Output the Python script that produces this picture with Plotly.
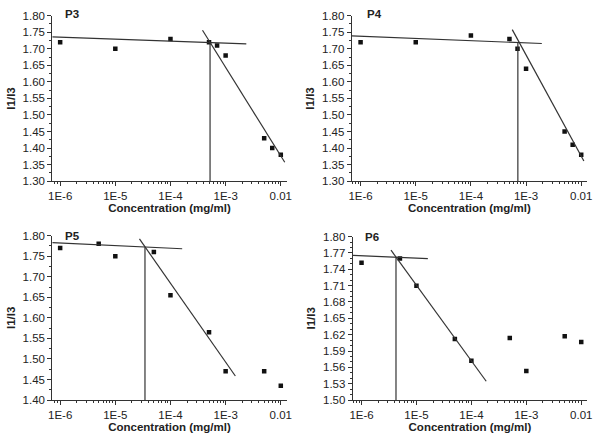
import plotly.graph_objects as go

# ---------------- data ----------------
conc_p3 = [1e-6, 1e-5, 1e-4, 5e-4, 7e-4, 1e-3, 5e-3, 7e-3, 1e-2]
ratio_p3 = [1.72, 1.70, 1.73, 1.72, 1.71, 1.68, 1.43, 1.40, 1.38]
flat_x_p3 = [7.2e-7, 2.37e-3]
flat_y_p3 = [1.736, 1.715]
steep_x_p3 = [3.81e-4, 1.18e-2]
steep_y_p3 = [1.756, 1.357]
cmc_p3 = 5.22e-4
cmc_y_p3 = 1.718

conc_p4 = [1e-6, 1e-5, 1e-4, 5e-4, 7e-4, 1e-3, 5e-3, 7e-3, 1e-2]
ratio_p4 = [1.72, 1.72, 1.74, 1.73, 1.70, 1.64, 1.45, 1.41, 1.38]
flat_x_p4 = [6.9e-7, 1.93e-3]
flat_y_p4 = [1.739, 1.716]
steep_x_p4 = [5.62e-4, 1.117e-2]
steep_y_p4 = [1.758, 1.361]
cmc_p4 = 7.1e-4
cmc_y_p4 = 1.718

conc_p5 = [1e-6, 5e-6, 1e-5, 5e-5, 1e-4, 5e-4, 1e-3, 5e-3, 1e-2]
ratio_p5 = [1.77, 1.78, 1.75, 1.76, 1.655, 1.565, 1.47, 1.47, 1.435]
flat_x_p5 = [7.2e-7, 1.63e-4]
flat_y_p5 = [1.783, 1.768]
steep_x_p5 = [2.74e-5, 1.50e-3]
steep_y_p5 = [1.792, 1.4585]
cmc_p5 = 3.45e-5
cmc_y_p5 = 1.772

conc_p6 = [1e-6, 5e-6, 1e-5, 5e-5, 1e-4, 5e-4, 1e-3, 5e-3, 1e-2]
ratio_p6 = [1.752, 1.760, 1.710, 1.612, 1.572, 1.614, 1.5535, 1.617, 1.6065]
flat_x_p6 = [7.0e-7, 1.61e-5]
flat_y_p6 = [1.7655, 1.7595]
steep_x_p6 = [3.44e-6, 1.86e-4]
steep_y_p6 = [1.775, 1.5345]
cmc_p6 = 4.24e-6
cmc_y_p6 = 1.761

x_tickvals = [1e-6, 1e-5, 1e-4, 1e-3, 1e-2]
x_ticktext = ["1E-6", "1E-5", "1E-4", "1E-3", "0.01"]

panels = [
    dict(name="P3", conc=conc_p3, ratio=ratio_p3, fx=flat_x_p3, fy=flat_y_p3,
         sx=steep_x_p3, sy=steep_y_p3, cmc=cmc_p3, cmcy=cmc_y_p3,
         yr=[1.30, 1.80], dt=0.05, mdt=0.025),
    dict(name="P4", conc=conc_p4, ratio=ratio_p4, fx=flat_x_p4, fy=flat_y_p4,
         sx=steep_x_p4, sy=steep_y_p4, cmc=cmc_p4, cmcy=cmc_y_p4,
         yr=[1.30, 1.80], dt=0.05, mdt=0.025),
    dict(name="P5", conc=conc_p5, ratio=ratio_p5, fx=flat_x_p5, fy=flat_y_p5,
         sx=steep_x_p5, sy=steep_y_p5, cmc=cmc_p5, cmcy=cmc_y_p5,
         yr=[1.40, 1.80], dt=0.05, mdt=0.025),
    dict(name="P6", conc=conc_p6, ratio=ratio_p6, fx=flat_x_p6, fy=flat_y_p6,
         sx=steep_x_p6, sy=steep_y_p6, cmc=cmc_p6, cmcy=cmc_y_p6,
         yr=[1.50, 1.80], dt=0.03, mdt=0.01),
]

# ---------------- layout geometry ----------------
W, H = 600, 444
xdoms = [[49 / W, 287 / W], [353 / W, 592 / W], [49 / W, 287 / W], [354 / W, 592 / W]]
xranges = [[-6.143, -1.893], [-6.161, -1.893], [-6.143, -1.893], [-6.161, -1.893]]
ydoms = [[1 - 180 / H, 1 - 10 / H], [1 - 180 / H, 1 - 10 / H],
         [1 - 405 / H, 1 - 236 / H], [1 - 405 / H, 1 - 237 / H]]
label_pos = [(0.045, 1.01), (0.055, 1.01), (0.045, 1.0), (0.045, 1.0)]

minor_vals = [m * 10.0 ** e for e in range(-7, -1) for m in range(2, 10)]

FONT = "Liberation Sans, Arial, sans-serif"
LINE = "#333333"
TXT = "#222222"
FS = 11.5

fig = go.Figure()
layout = dict(
    width=W, height=H, margin=dict(l=0, r=0, t=0, b=0),
    paper_bgcolor="white", plot_bgcolor="white", showlegend=False,
    font=dict(family=FONT, size=FS, color=TXT),
)
annotations = []

for i, p in enumerate(panels):
    xa = "x" if i == 0 else f"x{i+1}"
    ya = "y" if i == 0 else f"y{i+1}"
    fig.add_trace(go.Scatter(x=p["conc"], y=p["ratio"], mode="markers",
                             marker=dict(symbol="square", size=4.5, color="#111111"),
                             xaxis=xa, yaxis=ya))
    fig.add_trace(go.Scatter(x=p["fx"], y=p["fy"], mode="lines",
                             line=dict(color=LINE, width=1.2), xaxis=xa, yaxis=ya))
    fig.add_trace(go.Scatter(x=p["sx"], y=p["sy"], mode="lines",
                             line=dict(color=LINE, width=1.2), xaxis=xa, yaxis=ya))
    fig.add_trace(go.Scatter(x=[p["cmc"], p["cmc"]], y=[p["cmcy"], p["yr"][0]], mode="lines",
                             line=dict(color=LINE, width=1.2), xaxis=xa, yaxis=ya))

    xkey = "xaxis" if i == 0 else f"xaxis{i+1}"
    ykey = "yaxis" if i == 0 else f"yaxis{i+1}"
    layout[xkey] = dict(
        type="log", domain=xdoms[i], range=xranges[i], anchor=ya,
        tickmode="array", tickvals=x_tickvals, ticktext=x_ticktext,
        ticks="outside", ticklen=4, tickcolor=LINE, showgrid=False, zeroline=False,
        showline=True, linecolor=LINE, linewidth=1,
        tickfont=dict(size=FS, color=TXT),
        minor=dict(tickmode="array", tickvals=minor_vals, ticks="outside", ticklen=2,
                   tickcolor=LINE, showgrid=False),
        title=dict(text="<b>Concentration (mg/ml)</b>", font=dict(size=FS, color=TXT),
                   standoff=3),
    )
    layout[ykey] = dict(
        domain=ydoms[i], range=p["yr"], anchor=xa,
        tick0=p["yr"][0], dtick=p["dt"], tickformat=".2f",
        ticks="outside", ticklen=4, tickcolor=LINE, showgrid=False, zeroline=False,
        showline=True, linecolor=LINE, linewidth=1,
        tickfont=dict(size=FS, color=TXT),
        minor=dict(dtick=p["mdt"], tick0=p["yr"][0], ticks="outside", ticklen=2,
                   tickcolor=LINE, showgrid=False),
        title=dict(text="<b>I1/I3</b>", font=dict(size=FS, color=TXT), standoff=4),
    )
    lx, ly = label_pos[i]
    annotations.append(dict(
        text=f"<b>{p['name']}</b>", xref=f"{xa} domain", yref=f"{ya} domain",
        x=lx, y=ly, xanchor="left", yanchor="middle", showarrow=False,
        font=dict(size=FS, color=TXT),
    ))

layout["annotations"] = annotations
fig.update_layout(**layout)
fig.write_html("out.html", config={"displayModeBar": False},
               post_script="document.body.style.margin='0';document.body.style.overflow='hidden';")
